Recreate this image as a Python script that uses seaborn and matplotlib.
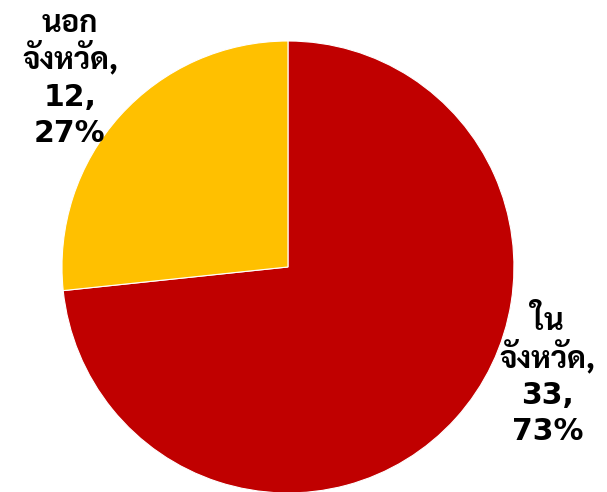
import matplotlib
matplotlib.use("Agg")
import matplotlib.pyplot as plt
from matplotlib import font_manager
from matplotlib.ft2font import FT2Font
import matplotlib.patheffects as pe
import seaborn as sns

# Data: trips by origin
categories = ["ใน\nจังหวัด", "นอก\nจังหวัด"]
counts = [33, 12]
colors = ["#C00000", "#FFC000"]

sns.set_theme(style="white")


def thai_font():
    """Return (family, has_bold) for an installed looped sans that covers Thai."""
    faces = {}
    for f in font_manager.fontManager.ttflist:
        try:
            cmap = FT2Font(f.fname).get_charmap()
        except Exception:
            continue
        if 0x0E08 in cmap and 0x0E31 in cmap:
            w = f.weight if isinstance(f.weight, int) else 400
            faces.setdefault(f.name, set()).add(w)
    preferred = ["Tahoma", "Noto Sans Thai Looped", "Sarabun", "Noto Sans Thai",
                 "Anuphan", "Bai Jamjuree"]
    for name in preferred:
        if name in faces and max(faces[name]) >= 600:
            return name, True
    bold = sorted(n for n, ws in faces.items() if max(ws) >= 600)
    if bold:
        return bold[0], True
    if faces:
        return sorted(faces)[0], False
    return "DejaVu Sans", True


thai_fam, has_bold = thai_font()
plt.rcParams["font.family"] = [thai_fam, "DejaVu Sans"]

fig = plt.figure(figsize=(6.07, 4.92), dpi=100)
ax = fig.add_axes([0.1021, -0.002, 0.7446, 0.9187])

ax.pie(counts, colors=colors, startangle=90, counterclock=False, radius=1,
       wedgeprops=dict(edgecolor="white", linewidth=0.8))
ax.set_xlim(-1, 1)
ax.set_ylim(-1, 1)
ax.set_aspect("equal")
ax.axis("off")

# Thicken strokes when no bold Thai face is installed
thai_fx = [] if has_bold else [pe.withStroke(linewidth=1.6, foreground="black")]

total = sum(counts)
# (center x, first baseline y) of each label in data units
label_pos = [(1.148, -0.279), (-0.965, 1.04)]
step = 26.5  # points between baselines

for cat, n, (lx, ly) in zip(categories, counts, label_pos):
    pct = round(100 * n / total)
    thai_lines = cat.split("\n")
    thai_lines[-1] += ","
    lines = [(t, True) for t in thai_lines] + [(f"{n},", False), (f"{pct}%", False)]
    for i, (txt, is_thai) in enumerate(lines):
        ax.annotate(txt, xy=(lx, ly), xytext=(0, -i * step),
                    textcoords="offset points", ha="center", va="baseline",
                    fontsize=22 if is_thai else 21.5, fontweight="bold",
                    family=[thai_fam, "DejaVu Sans"] if is_thai else ["DejaVu Sans"],
                    color="black", annotation_clip=False,
                    path_effects=thai_fx if is_thai else [])

fig.savefig("out.png", dpi=100, facecolor="white")
